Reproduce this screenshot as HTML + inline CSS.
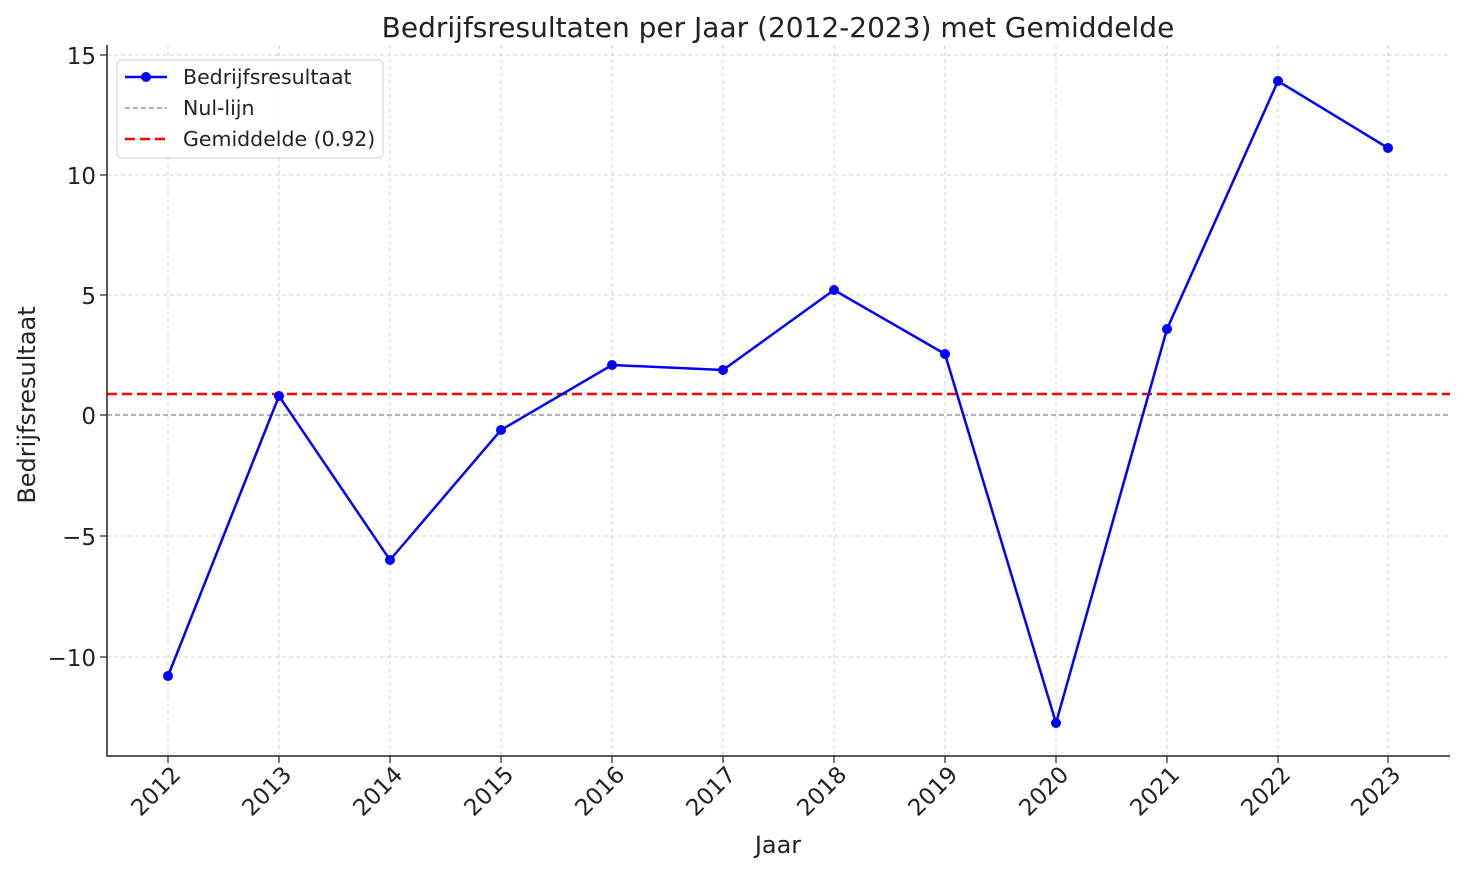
<!DOCTYPE html>
<html><head><meta charset="utf-8"><style>body{margin:0;background:#fff}svg{display:block}</style></head><body>
<svg width="1464" height="873" xmlns="http://www.w3.org/2000/svg" font-family="DejaVu Sans, Liberation Sans, sans-serif">
<rect width="1464" height="873" fill="#fff"/>
<g stroke="#d0d0d0" stroke-width="1" stroke-dasharray="4,3">
<line x1="168" y1="45" x2="168" y2="756"/><line x1="279" y1="45" x2="279" y2="756"/><line x1="390" y1="45" x2="390" y2="756"/><line x1="501" y1="45" x2="501" y2="756"/><line x1="612" y1="45" x2="612" y2="756"/><line x1="723" y1="45" x2="723" y2="756"/><line x1="834" y1="45" x2="834" y2="756"/><line x1="945" y1="45" x2="945" y2="756"/><line x1="1056" y1="45" x2="1056" y2="756"/><line x1="1167" y1="45" x2="1167" y2="756"/><line x1="1278" y1="45" x2="1278" y2="756"/><line x1="1388" y1="45" x2="1388" y2="756"/>
<line x1="107" y1="55" x2="1450" y2="55"/><line x1="107" y1="175" x2="1450" y2="175"/><line x1="107" y1="295" x2="1450" y2="295"/><line x1="107" y1="536" x2="1450" y2="536"/><line x1="107" y1="657" x2="1450" y2="657"/>
</g>
<line x1="107" y1="415" x2="1450" y2="415" stroke="#808080" stroke-width="1.2" stroke-dasharray="5,3"/>
<line x1="107" y1="394" x2="1450" y2="394" stroke="#ff0000" stroke-width="2.5" stroke-dasharray="10,5"/>
<polyline fill="none" stroke="#0000ff" stroke-width="2.5" points="168,676 279,396 390,560 501,430 612,365 723,370 834,290 945,354 1056,723 1167,329 1278,81 1388,148"/>
<g fill="#0000ff">
<circle cx="168" cy="676" r="5"/><circle cx="279" cy="396" r="5"/><circle cx="390" cy="560" r="5"/><circle cx="501" cy="430" r="5"/><circle cx="612" cy="365" r="5"/><circle cx="723" cy="370" r="5"/><circle cx="834" cy="290" r="5"/><circle cx="945" cy="354" r="5"/><circle cx="1056" cy="723" r="5"/><circle cx="1167" cy="329" r="5"/><circle cx="1278" cy="81" r="5"/><circle cx="1388" cy="148" r="5"/>
</g>
<polyline points="107,45 107,756 1450,756" fill="none" stroke="#222" stroke-width="1.5"/>
<g stroke="#222" stroke-width="1.2">
<line x1="100" y1="55" x2="107" y2="55"/><line x1="100" y1="175" x2="107" y2="175"/><line x1="100" y1="295" x2="107" y2="295"/><line x1="100" y1="415" x2="107" y2="415"/><line x1="100" y1="536" x2="107" y2="536"/><line x1="100" y1="657" x2="107" y2="657"/>
<line x1="168" y1="756" x2="168" y2="763"/><line x1="279" y1="756" x2="279" y2="763"/><line x1="390" y1="756" x2="390" y2="763"/><line x1="501" y1="756" x2="501" y2="763"/><line x1="612" y1="756" x2="612" y2="763"/><line x1="723" y1="756" x2="723" y2="763"/><line x1="834" y1="756" x2="834" y2="763"/><line x1="945" y1="756" x2="945" y2="763"/><line x1="1056" y1="756" x2="1056" y2="763"/><line x1="1167" y1="756" x2="1167" y2="763"/><line x1="1278" y1="756" x2="1278" y2="763"/><line x1="1388" y1="756" x2="1388" y2="763"/>
</g>
<g font-size="23" fill="#222" text-anchor="end">
<text x="96" y="64">15</text><text x="96" y="184">10</text><text x="96" y="304">5</text><text x="96" y="424">0</text><text x="96" y="545">−5</text><text x="96" y="666">−10</text>
</g>
<g font-size="23" fill="#222" text-anchor="end">
<text transform="translate(182,776) rotate(-45)">2012</text><text transform="translate(293,776) rotate(-45)">2013</text><text transform="translate(404,776) rotate(-45)">2014</text><text transform="translate(515,776) rotate(-45)">2015</text><text transform="translate(626,776) rotate(-45)">2016</text><text transform="translate(737,776) rotate(-45)">2017</text><text transform="translate(848,776) rotate(-45)">2018</text><text transform="translate(959,776) rotate(-45)">2019</text><text transform="translate(1070,776) rotate(-45)">2020</text><text transform="translate(1181,776) rotate(-45)">2021</text><text transform="translate(1292,776) rotate(-45)">2022</text><text transform="translate(1402,776) rotate(-45)">2023</text>
</g>
<text x="778" y="853" font-size="24" fill="#222" text-anchor="middle">Jaar</text>
<text transform="translate(35,405) rotate(-90)" font-size="24" fill="#222" text-anchor="middle">Bedrijfsresultaat</text>
<text x="778" y="37" font-size="28" fill="#222" text-anchor="middle">Bedrijfsresultaten per Jaar (2012-2023) met Gemiddelde</text>
<rect x="117" y="60" width="266" height="98" rx="4" fill="#fff" fill-opacity="0.85" stroke="#ccc"/>
<line x1="125" y1="77" x2="167" y2="77" stroke="#0000ff" stroke-width="2.5"/><circle cx="146" cy="77" r="5" fill="#0000ff"/>
<line x1="125" y1="108" x2="167" y2="108" stroke="#808080" stroke-width="1.2" stroke-dasharray="5,3"/>
<line x1="125" y1="139" x2="167" y2="139" stroke="#ff0000" stroke-width="2.5" stroke-dasharray="10,5"/>
<g font-size="20.5" fill="#222"><text x="183" y="84">Bedrijfsresultaat</text><text x="183" y="115">Nul-lijn</text><text x="183" y="146">Gemiddelde (0.92)</text></g>
</svg>
</body></html>
